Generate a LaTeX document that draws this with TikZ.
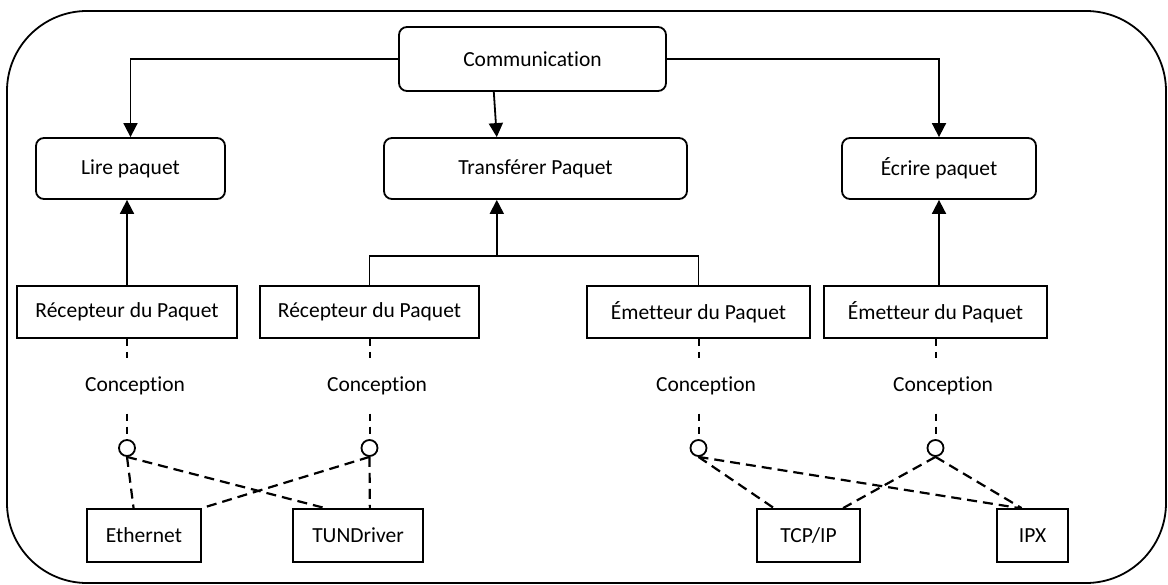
\documentclass[tikz,border=0pt]{standalone}
\usepackage{fontspec}
\setmainfont{Carlito}[Ligatures={NoCommon}]
\usetikzlibrary{arrows.meta,calc}
\begin{document}
\begin{tikzpicture}[x=1pt,y=-1pt,
  every node/.style={font=\fontsize{21.5}{25}\selectfont, inner sep=0pt},
  rbox/.style={draw, line width=1.8pt, rounded corners=8pt},
  sbox/.style={draw, line width=1.8pt},
  arr/.style={line width=1.8pt, -{Triangle[width=14pt,length=14pt]}},
  conn/.style={line width=1.8pt},
  vdash/.style={line width=2pt, dash pattern=on 7pt off 6pt},
  ddash/.style={line width=2.2pt, dash pattern=on 10pt off 6pt},
  concept/.style={minimum height=55pt},
  port/.style={draw, circle, line width=1.8pt, minimum size=16pt}
]
\useasboundingbox (0,0) rectangle (1168,585);
\draw[line width=1.8pt, rounded corners=80pt] (7,11) rectangle (1166,583);

% top level
\node[rbox, minimum width=267pt, minimum height=64pt] (comm) at (532.5,59) {Communication};
% second level
\node[rbox, minimum width=189pt, minimum height=61pt] (lire) at (130.5,168.5) {Lire paquet};
\node[rbox, minimum width=303pt, minimum height=61pt] (trans) at (535.5,168.5) {Transférer Paquet};
\node[rbox, minimum width=194pt, minimum height=61pt] (ecr) at (939,168.5) {Écrire paquet};
% third level
\node[sbox, minimum width=220pt, minimum height=52pt] (rec1) at (127,312) {Récepteur du Paquet};
\node[sbox, minimum width=219pt, minimum height=52pt] (rec2) at (369.5,312) {Récepteur du Paquet};
\node[sbox, minimum width=223pt, minimum height=52pt] (em1) at (698.5,312) {Émetteur du Paquet};
\node[sbox, minimum width=223pt, minimum height=52pt] (em2) at (935.5,312) {Émetteur du Paquet};
% conception labels
\node[concept] (con1) at (135,386) {Conception};
\node[concept] (con2) at (377,386) {Conception};
\node[concept] (con3) at (706,386) {Conception};
\node[concept] (con4) at (943,386) {Conception};
% ports
\node[port] (c1) at (127,448) {};
\node[port] (c2) at (369.5,448) {};
\node[port] (c3) at (698.5,448) {};
\node[port] (c4) at (935.5,448) {};
% bottom
\node[sbox, minimum width=114pt, minimum height=53pt] (eth) at (144,535.5) {Ethernet};
\node[sbox, minimum width=130pt, minimum height=53pt] (tun) at (358,535.5) {TUNDriver};
\node[sbox, minimum width=103pt, minimum height=53pt] (tcp) at (808.5,535.5) {TCP/IP};
\node[sbox, minimum width=71pt, minimum height=53pt] (ipx) at (1032.5,535.5) {IPX};

% arrows from Communication
\draw[arr] (comm.west) -| (lire.north);
\draw[arr] (comm.east) -| (ecr.north);
\draw[arr] ($(comm.south west)!0.356!(comm.south east)$) -- ($(trans.north west)!0.373!(trans.north east)$);

% arrows up
\draw[arr] (rec1.north) -- (rec1.north |- lire.south);
\coordinate (j) at ($(trans.south west)!0.373!(trans.south east) + (0,56)$);
\draw[conn] (rec2.north) |- (j) -| (em1.north);
\draw[arr] (j) -- (j |- trans.south);
\draw[arr] (ecr.south |- em2.north) -- (ecr.south);

% dashed verticals
\foreach \b/\c/\p in {rec1/con1/c1, rec2/con2/c2, em1/con3/c3, em2/con4/c4}{
  \draw[vdash] (\b.south) -- (\c.north -| \b.south);
  \draw[vdash] (\c.south -| \b.south) -- (\p.north);
}

% dashed diagonals
\draw[ddash] (c1.south) -- ($(eth.north west)!0.41!(eth.north east)$);
\draw[ddash] (c1.south) -- ($(tun.north west)!0.25!(tun.north east)$);
\draw[ddash] (c2.south) -- (eth.north east);
\draw[ddash] (c2.south) -- ($(tun.north west)!0.59!(tun.north east)$);
\draw[ddash] (c3.south) -- ($(tcp.north west)!0.17!(tcp.north east)$);
\draw[ddash] (c3.south) -- ($(ipx.north west)!0.32!(ipx.north east)$);
\draw[ddash] (c4.south) -- ($(tcp.north west)!0.83!(tcp.north east)$);
\draw[ddash] (c4.south) -- ($(ipx.north west)!0.35!(ipx.north east)$);
\end{tikzpicture}
\end{document}
